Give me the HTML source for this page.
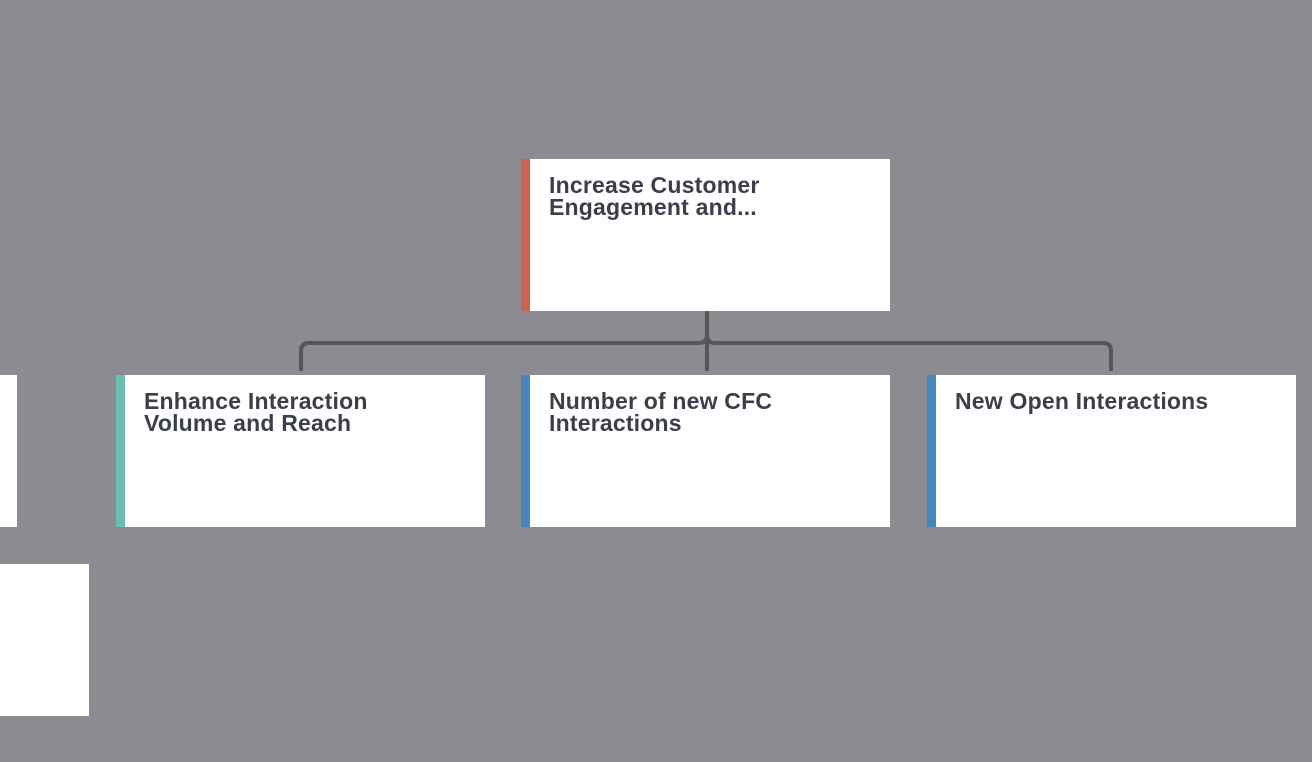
<!DOCTYPE html>
<html><head><style>
body{margin:0;width:1312px;height:762px;background:#8b8c91;position:relative;overflow:hidden;font-family:"Liberation Sans",sans-serif}
.b{position:absolute;background:#fff;box-sizing:border-box}
.b .t{position:absolute;left:28px;top:15px;font-weight:bold;font-size:23px;line-height:22px;color:#3b3f4a;letter-spacing:0.2px;white-space:nowrap}
.bar{position:absolute;left:0;top:0;bottom:0;width:9px}
</style></head><body>
<div class="b" style="left:0;top:375px;width:17px;height:152px"></div>
<div class="b" style="left:0;top:564px;width:89px;height:152px"></div>
<div class="b" style="left:521px;top:159px;width:369px;height:152px"><div class="bar" style="background:#cf6151"></div><div class="t">Increase Customer<br>Engagement and...</div></div>
<div class="b" style="left:116px;top:375px;width:369px;height:152px"><div class="bar" style="background:#67c0b0"></div><div class="t">Enhance Interaction<br>Volume and Reach</div></div>
<div class="b" style="left:521px;top:375px;width:369px;height:152px"><div class="bar" style="background:#4a86be"></div><div class="t">Number of new CFC<br>Interactions</div></div>
<div class="b" style="left:927px;top:375px;width:369px;height:152px"><div class="bar" style="background:#4a86be"></div><div class="t">New Open Interactions</div></div>
<svg width="1312" height="762" style="position:absolute;left:0;top:0">
<g fill="none" stroke="#555657" stroke-width="4">
<path d="M707 311 V335 Q707 343 699 343 H309 Q301 343 301 351 V371"/>
<path d="M707 335 Q707 343 715 343 H1103 Q1111 343 1111 351 V371"/>
<path d="M707 335 V371"/>
</g></svg>
</body></html>
